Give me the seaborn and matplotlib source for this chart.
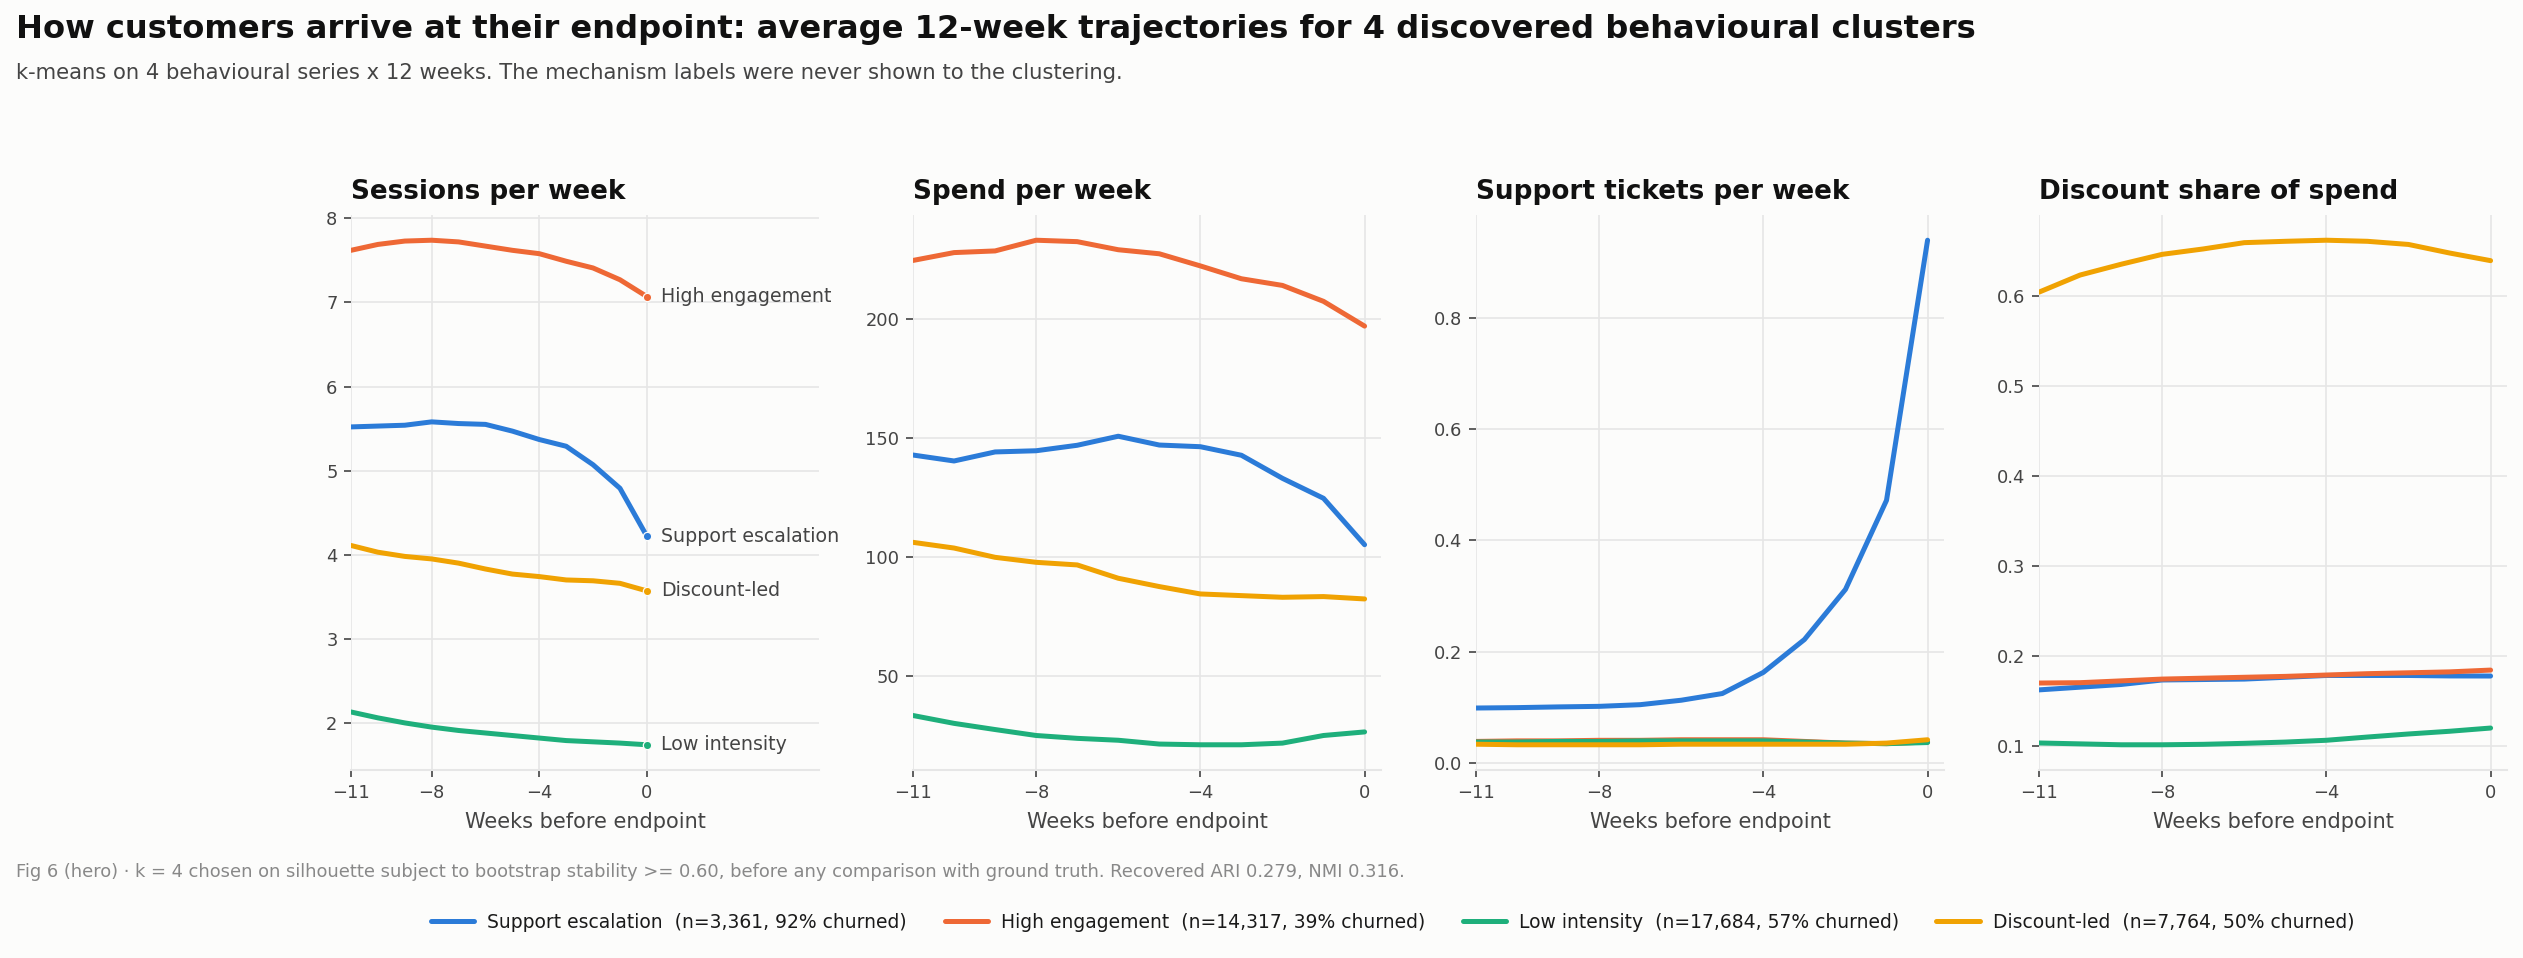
import matplotlib
matplotlib.use("Agg")
import matplotlib.pyplot as plt
import seaborn as sns
import pandas as pd

# ---------------- data ----------------
weeks = list(range(-11, 1))
clusters = ["Support escalation", "High engagement", "Low intensity", "Discount-led"]
cluster_n = ["3,361", "14,317", "17,684", "7,764"]
cluster_churn = [92, 39, 57, 50]

metric_titles = ["Sessions per week", "Spend per week", "Support tickets per week",
                 "Discount share of spend"]

sessions_support = [5.52, 5.53, 5.54, 5.58, 5.56, 5.55, 5.47, 5.37, 5.29, 5.07, 4.79, 4.22]
sessions_high = [7.62, 7.69, 7.73, 7.74, 7.72, 7.67, 7.62, 7.58, 7.49, 7.41, 7.27, 7.07]
sessions_low = [2.13, 2.06, 2.00, 1.95, 1.91, 1.88, 1.85, 1.82, 1.79, 1.775, 1.76, 1.74]
sessions_disc = [4.11, 4.03, 3.98, 3.95, 3.90, 3.83, 3.77, 3.74, 3.70, 3.69, 3.66, 3.57]

spend_support = [142.7, 140.2, 144.0, 144.5, 146.8, 150.6, 146.9, 146.2, 142.6, 132.9, 124.5, 105.0]
spend_high = [224.5, 227.8, 228.5, 233.0, 232.4, 229.0, 227.3, 222.2, 216.8, 214.0, 207.3, 196.9]
spend_low = [33.2, 29.9, 27.3, 24.8, 23.6, 22.8, 21.2, 20.9, 20.9, 21.6, 24.8, 26.3]
spend_disc = [106.0, 103.6, 99.7, 97.6, 96.5, 90.9, 87.4, 84.3, 83.6, 82.9, 83.2, 82.2]

tickets_support = [0.099, 0.0997, 0.101, 0.102, 0.105, 0.113, 0.125, 0.163, 0.222, 0.312, 0.472, 0.939]
tickets_high = [0.039, 0.040, 0.040, 0.041, 0.041, 0.042, 0.042, 0.042, 0.039, 0.036, 0.035, 0.038]
tickets_low = [0.038, 0.038, 0.039, 0.039, 0.040, 0.040, 0.040, 0.040, 0.038, 0.036, 0.035, 0.037]
tickets_disc = [0.034, 0.033, 0.033, 0.033, 0.033, 0.034, 0.034, 0.034, 0.034, 0.034, 0.036, 0.042]

share_support = [0.162, 0.165, 0.168, 0.173, 0.1735, 0.174, 0.176, 0.178, 0.178, 0.178, 0.1775, 0.1774]
share_high = [0.1696, 0.170, 0.172, 0.174, 0.175, 0.176, 0.177, 0.1785, 0.180, 0.181, 0.182, 0.184]
share_low = [0.103, 0.102, 0.101, 0.101, 0.1015, 0.1026, 0.104, 0.106, 0.1096, 0.113, 0.116, 0.1196]
share_disc = [0.604, 0.623, 0.635, 0.646, 0.652, 0.659, 0.6605, 0.6617, 0.6605, 0.657, 0.6475, 0.639]

series = {
    metric_titles[0]: [sessions_support, sessions_high, sessions_low, sessions_disc],
    metric_titles[1]: [spend_support, spend_high, spend_low, spend_disc],
    metric_titles[2]: [tickets_support, tickets_high, tickets_low, tickets_disc],
    metric_titles[3]: [share_support, share_high, share_low, share_disc],
}

rows = []
for m, lists in series.items():
    for c, vals in zip(clusters, lists):
        for w, v in zip(weeks, vals):
            rows.append({"metric": m, "cluster": c, "week": w, "value": v})
df = pd.DataFrame(rows)

# ---------------- style ----------------
BG = "#fcfcfb"
GRID = "#e6e6e6"
TXT = "#444444"
palette = dict(zip(clusters, ["#2b7bd8", "#ee6835", "#1eaf7b", "#f0a202"]))

sns.set_theme(style="whitegrid")
plt.rcParams["font.family"] = ["DejaVu Sans"]
plt.rcParams.update({
    "figure.facecolor": BG,
    "axes.facecolor": BG,
    "savefig.facecolor": BG,
    "grid.color": GRID,
    "grid.linewidth": 0.8,
    "axes.unicode_minus": True,
})

fig = plt.figure(figsize=(16.82, 6.3867), dpi=150)

W, H = 2523.0, 958.0
lefts_px = [351, 913, 1476, 2039]
ax_w = 468 / W
ax_bottom = 1 - 770 / H
ax_h = (770 - 215) / H

axes = []
for i, m in enumerate(metric_titles):
    ax = fig.add_axes([lefts_px[i] / W, ax_bottom, ax_w, ax_h])
    axes.append(ax)
    sns.lineplot(data=df[df["metric"] == m], x="week", y="value", hue="cluster",
                 hue_order=clusters, palette=palette, linewidth=2.4, ax=ax,
                 legend=(i == 0))
    ax.set_xlim(-11, 6.4 if i == 0 else 0.4)
    ax.set_xticks([-11, -8, -4, 0])
    ax.set_title(m, loc="left", fontsize=12.6, fontweight="bold", color="#111111", pad=7.5)
    ax.set_xlabel("Weeks before endpoint", fontsize=10, color=TXT, labelpad=5)
    ax.set_ylabel("")
    for s in ["left", "top", "right"]:
        ax.spines[s].set_visible(False)
    ax.spines["bottom"].set_color(GRID)
    ax.spines["bottom"].set_linewidth(1.0)
    ax.tick_params(axis="both", which="major", bottom=True, left=True, length=3.5,
                   width=0.8, color=TXT, labelsize=8.6, labelcolor=TXT, pad=3)
    ax.grid(True, axis="both")

# endpoint labels on first panel
ax0 = axes[0]
for c, vals in zip(clusters, series[metric_titles[0]]):
    ax0.plot([weeks[-1]], [vals[-1]], "o", ms=4, color=palette[c], mec=BG, mew=0.6,
             zorder=5, clip_on=False)
    ax0.annotate(c, xy=(weeks[-1], vals[-1]), xytext=(7, 0), textcoords="offset points",
                 va="center", ha="left", fontsize=9.1, color=TXT)

handles, labels = ax0.get_legend_handles_labels()
ax0.get_legend().remove()
leg_labels = [f"{c}  (n={n}, {p}% churned)" for c, n, p in zip(clusters, cluster_n, cluster_churn)]
for h in handles:
    h.set_linewidth(2.4)
fig.legend(handles, leg_labels, loc="center", bbox_to_anchor=(0.552, 1 - 922 / H),
           ncol=4, frameon=False, fontsize=9, handlelength=2.3, handletextpad=0.7,
           columnspacing=2.0, labelcolor="#1a1a1a")

fig.text(16 / W, 1 - 29 / H,
         "How customers arrive at their endpoint: average 12-week trajectories for 4 discovered behavioural clusters",
         fontsize=15.4, fontweight="bold", color="#111111", va="center", ha="left")
fig.text(16 / W, 1 - 73 / H,
         "k-means on 4 behavioural series x 12 weeks. The mechanism labels were never shown to the clustering.",
         fontsize=10.15, color=TXT, va="center", ha="left")
fig.text(16 / W, 1 - 872 / H,
         "Fig 6 (hero) \u00b7 k = 4 chosen on silhouette subject to bootstrap stability >= 0.60, before any comparison with ground truth. Recovered ARI 0.279, NMI 0.316.",
         fontsize=8.6, color="#888888", va="center", ha="left")

fig.savefig("out.png", dpi=150, facecolor=BG)
